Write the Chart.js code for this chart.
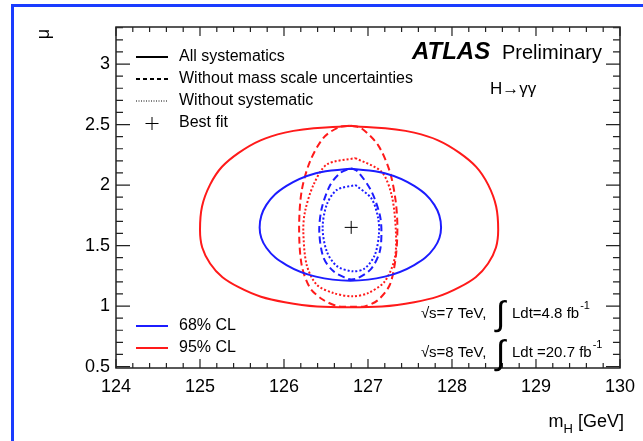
<!DOCTYPE html>
<html>
<head>
<meta charset="utf-8">
<script src="https://cdn.jsdelivr.net/npm/chart.js@4/dist/chart.umd.min.js"></script>
<style>
  html, body { margin: 0; padding: 0; background: #fff; }
  #chartContainer { width: 643px; height: 441px; }
</style>
</head>
<body>
<div id="chartContainer"><canvas id="chart" width="643" height="441"></canvas></div>
<script>
// axis ticks
const xTicks = [124, 125, 126, 127, 128, 129, 130];
const yTicks = [0.5, 1, 1.5, 2, 2.5, 3];

// contours (mH, mu)
const red95AllX = [126.78, 127.55, 128.09, 128.43, 128.55, 128.43, 128.09, 127.55, 126.78, 126.01, 125.46, 125.12, 125.00, 125.12, 125.46, 126.01, 126.78];
const red95AllY = [2.49, 2.433, 2.266, 2.003, 1.63, 1.352, 1.156, 1.032, 0.99, 1.032, 1.156, 1.352, 1.63, 2.003, 2.266, 2.433, 2.49];

const blue68AllX = [126.79, 127.20, 127.55, 127.79, 127.87, 127.79, 127.55, 127.20, 126.79, 126.38, 126.03, 125.79, 125.71, 125.79, 126.03, 126.38, 126.79];
const blue68AllY = [2.135, 2.098, 1.993, 1.836, 1.65, 1.482, 1.339, 1.243, 1.21, 1.243, 1.339, 1.482, 1.65, 1.836, 1.993, 2.098, 2.135];

const red95NoMassX = [126.80, 126.92, 127.12, 127.26, 127.33, 127.35, 127.33, 127.26, 127.12, 126.96, 126.80, 126.65, 126.47, 126.31, 126.21, 126.18, 126.21, 126.31, 126.47, 126.65, 126.80];
const red95NoMassY = [2.49, 2.47, 2.33, 2.11, 1.865, 1.645, 1.40, 1.176, 1.05, 0.997, 0.995, 0.997, 1.05, 1.15, 1.34, 1.645, 1.95, 2.196, 2.39, 2.477, 2.49];

const blue68NoMassX = [126.80, 126.88, 127.04, 127.14, 127.16, 127.14, 127.04, 126.88, 126.80, 126.74, 126.59, 126.47, 126.42, 126.45, 126.55, 126.67, 126.80];
const blue68NoMassY = [2.14, 2.11, 1.95, 1.755, 1.617, 1.45, 1.31, 1.23, 1.22, 1.23, 1.287, 1.40, 1.617, 1.81, 2.00, 2.10, 2.14];

const red95NoSystX = [126.85, 127.16, 127.28, 127.33, 127.32, 127.20, 127.00, 126.82, 126.59, 126.39, 126.27, 126.23, 126.25, 126.35, 126.51, 126.85];
const red95NoSystY = [2.223, 2.11, 1.92, 1.645, 1.40, 1.204, 1.107, 1.08, 1.107, 1.176, 1.34, 1.617, 1.78, 2.00, 2.17, 2.223];

const blue68NoSystX = [126.85, 127.04, 127.12, 127.13, 127.08, 126.96, 126.82, 126.63, 126.51, 126.46, 126.51, 126.63, 126.85];
const blue68NoSystY = [2.00, 1.89, 1.73, 1.59, 1.42, 1.31, 1.287, 1.33, 1.45, 1.645, 1.84, 1.96, 2.00];

const bestFitX = [126.8];
const bestFitY = [1.65];

const BLUE = '#1c1cff';
const RED = '#ff1a1a';
const FONT = '"Liberation Sans", Arial, Helvetica, sans-serif';

function pts(xs, ys) {
  return xs.map((x, i) => ({ x: x, y: ys[i] }));
}

function contour(xs, ys, color, dash, width, tension) {
  return {
    type: 'line',
    data: pts(xs, ys),
    borderColor: color,
    borderWidth: width,
    borderDash: dash,
    pointRadius: 0,
    fill: false,
    tension: tension
  };
}

const overlay = {
  id: 'overlay',
  beforeDraw(chart) {
    const c = chart.ctx;
    c.save();
    c.strokeStyle = '#1a3cff';
    c.lineWidth = 3;
    c.beginPath();
    c.moveTo(12.5, 441);
    c.lineTo(12.5, 5.5);
    c.lineTo(643, 5.5);
    c.stroke();
    c.restore();
  },
  afterDraw(chart) {
    const c = chart.ctx;
    const a = chart.chartArea;
    const sx = chart.scales.x, sy = chart.scales.y;
    c.save();

    // frame
    c.strokeStyle = '#222';
    c.lineWidth = 1.5;
    c.strokeRect(a.left, a.top, a.right - a.left, a.bottom - a.top);

    // inner ticks, ROOT style
    c.lineWidth = 1.2;
    c.beginPath();
    for (let i = 0; i <= 30; i++) {
      const v = 124 + i * 0.2;
      const px = sx.getPixelForValue(v);
      const len = (i % 5 === 0) ? 9 : 5;
      c.moveTo(px, a.bottom); c.lineTo(px, a.bottom - len);
      c.moveTo(px, a.top); c.lineTo(px, a.top + len);
    }
    for (let i = 0; i <= 28; i++) {
      const v = 0.5 + i * 0.1;
      if (v > sy.max) break;
      const py = sy.getPixelForValue(v);
      const len = (i % 5 === 0) ? 14 : 7;
      c.moveTo(a.left, py); c.lineTo(a.left + len, py);
      c.moveTo(a.right, py); c.lineTo(a.right - len, py);
    }
    c.stroke();

    c.fillStyle = '#000';
    c.textBaseline = 'middle';

    // axis titles
    c.save();
    c.translate(44, 34);
    c.rotate(-Math.PI / 2);
    c.font = '18px ' + FONT;
    c.textAlign = 'center';
    c.fillText('μ', 0, 0);
    c.restore();

    c.textBaseline = 'alphabetic';
    c.textAlign = 'right';
    c.font = '18px ' + FONT;
    c.fillText(' [GeV]', 624, 427);
    let w = c.measureText(' [GeV]').width;
    c.font = '13px ' + FONT;
    c.fillText('H', 624 - w, 433);
    w += c.measureText('H').width;
    c.font = '18px ' + FONT;
    c.fillText('m', 624 - w, 427);

    // legend (top)
    c.textAlign = 'left';
    c.textBaseline = 'middle';
    c.strokeStyle = '#000';
    const rows = [
      ['All systematics', [], 2],
      ['Without mass scale uncertainties', [4, 3], 2],
      ['Without systematic', [1, 1.5], 1]
    ];
    const rowY = [57, 79, 101];
    rows.forEach((r, i) => {
      c.setLineDash(r[1]);
      c.lineWidth = r[2];
      c.beginPath();
      c.moveTo(136, rowY[i]); c.lineTo(168, rowY[i]);
      c.stroke();
      c.font = '16px ' + FONT;
      c.fillText(r[0], 179, rowY[i]);
    });
    c.setLineDash([]);
    c.lineWidth = 1;
    c.beginPath();
    c.moveTo(145.5, 123.5); c.lineTo(158.5, 123.5);
    c.moveTo(152, 117); c.lineTo(152, 130);
    c.stroke();
    c.fillText('Best fit', 179, 123);

    // legend (bottom)
    [['68% CL', BLUE, 326], ['95% CL', RED, 348]].forEach(r => {
      c.strokeStyle = r[1];
      c.lineWidth = 2;
      c.beginPath();
      c.moveTo(136, r[2]); c.lineTo(168, r[2]);
      c.stroke();
      c.fillText(r[0], 179, r[2]);
    });

    // ATLAS label
    c.textBaseline = 'alphabetic';
    c.font = 'italic bold 24px ' + FONT;
    c.fillText('ATLAS', 412, 59);
    c.font = '20px ' + FONT;
    c.fillText('Preliminary', 502, 59);
    c.font = '17px ' + FONT;
    c.fillText('H\u2192\u03B3\u03B3', 490, 94);

    // luminosity
    const lumi = [['s=7 TeV,', 'Ldt=4.8 fb', 318], ['s=8 TeV,', 'Ldt =20.7 fb', 357]];
    lumi.forEach(l => {
      c.font = '15px ' + FONT;
      c.fillText('\u221A', 421, l[2]);
      c.fillText(l[0], 429, l[2]);
      c.font = '34px ' + FONT;
      c.fillText('\u222B', 496, l[2] + 7);
      c.font = '15px ' + FONT;
      c.fillText(l[1], 512, l[2]);
      const lw = c.measureText(l[1]).width;
      c.font = '11px ' + FONT;
      c.fillText('-1', 512 + lw + 1, l[2] - 9);
    });

    c.restore();
  }
};

const ctx = document.querySelector('#chart');

const newChart = new Chart(ctx, {
  type: 'scatter',
  data: {
    datasets: [
      contour(red95AllX, red95AllY, RED, [], 2, 0.4),
      contour(blue68AllX, blue68AllY, BLUE, [], 2, 0.4),
      contour(red95NoMassX, red95NoMassY, RED, [7, 4], 2, 0.3),
      contour(blue68NoMassX, blue68NoMassY, BLUE, [7, 4], 2, 0.3),
      contour(red95NoSystX, red95NoSystY, RED, [2, 2], 2, 0.3),
      contour(blue68NoSystX, blue68NoSystY, BLUE, [2, 2], 2, 0.3),
      {
        data: pts(bestFitX, bestFitY),
        pointStyle: 'cross',
        pointRadius: 6.5,
        pointBorderColor: '#000',
        pointBorderWidth: 1,
        showLine: false
      }
    ]
  },
  options: {
    responsive: false,
    animation: false,
    layout: { padding: { left: 0, top: 27, right: 19, bottom: 0 } },
    plugins: {
      legend: { display: false },
      tooltip: { enabled: false }
    },
    scales: {
      x: {
        type: 'linear',
        min: 124,
        max: 130,
        afterBuildTicks: s => { s.ticks = xTicks.map(v => ({ value: v })); },
        afterFit: s => { s.height = 73; },
        grid: { display: false, drawTicks: false },
        border: { display: false },
        ticks: { padding: 8, color: '#000', font: { family: FONT, size: 18 }, callback: v => String(v) }
      },
      y: {
        type: 'linear',
        min: 0.488,
        max: 3.306,
        afterBuildTicks: s => { s.ticks = yTicks.map(v => ({ value: v })); },
        afterFit: s => { s.width = 116; },
        grid: { display: false, drawTicks: false },
        border: { display: false },
        ticks: { padding: 6, color: '#000', font: { family: FONT, size: 18 }, callback: v => String(v) }
      }
    }
  },
  plugins: [overlay]
});
</script>
</body>
</html>
